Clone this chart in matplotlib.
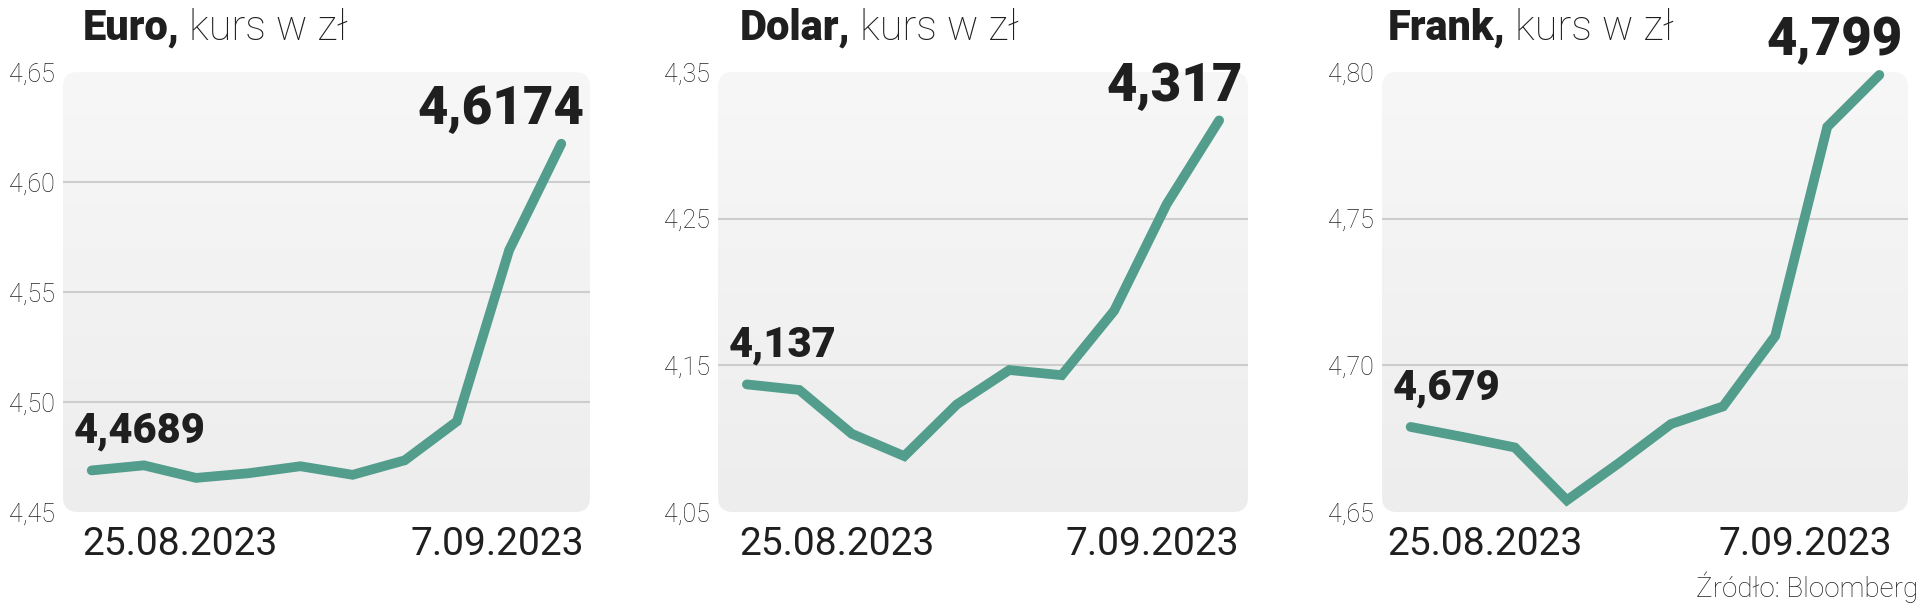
import numpy as np
import matplotlib.pyplot as plt
from matplotlib.patches import FancyBboxPatch
from matplotlib.colors import LinearSegmentedColormap

# Notowania dzienne 25.08.2023 - 7.09.2023
dates = ['25.08.2023', '28.08.2023', '29.08.2023', '30.08.2023', '31.08.2023',
         '1.09.2023', '4.09.2023', '5.09.2023', '6.09.2023', '7.09.2023']

euro = [4.4689, 4.4712, 4.4655, 4.4676, 4.4708, 4.4669, 4.4735, 4.4912, 4.5690, 4.6174]
dolar = [4.137, 4.1332, 4.1033, 4.0881, 4.1233, 4.1468, 4.1433, 4.1873, 4.2599, 4.317]
frank = [4.679, 4.6756, 4.6720, 4.6540, 4.6667, 4.6800, 4.6860, 4.7100, 4.7813, 4.799]

names = ['Euro,', 'Dolar,', 'Frank,']
series = [euro, dolar, frank]
decimals = [4, 3, 3]

euro_ticks = [4.45, 4.50, 4.55, 4.60, 4.65]
dolar_ticks = [4.05, 4.15, 4.25, 4.35]
frank_ticks = [4.65, 4.70, 4.75, 4.80]
tick_sets = [euro_ticks, dolar_ticks, frank_ticks]

source = 'Źródło: Bloomberg'

# layout (pixels in a 1920x608 figure)
W, H = 1920, 608
box_x = [(63, 590), (718, 1248), (1382, 1908)]
box_top, box_bottom = 72, 512
left_x = [0.037, 0.041, 0.010]
right_x = [0.989, 0.983, 0.970]

line_color = '#529d8c'
text_color = '#1f1f1f'
bg_cmap = LinearSegmentedColormap.from_list('bg', ['#ededee', '#f7f7f7'])

fig = plt.figure(figsize=(W / 100, H / 100), dpi=100)

for i, vals in enumerate(series):
    l, r = box_x[i]
    bw, bh = r - l, box_bottom - box_top
    ax = fig.add_axes([l / W, 1 - box_bottom / H, bw / W, bh / H])
    ticks = tick_sets[i]
    lo, hi = ticks[0], ticks[-1]
    x = np.arange(len(vals))

    # rounded gray background with soft gradient
    box = FancyBboxPatch((0, 0), 1, 1, boxstyle='round,pad=0,rounding_size=%f' % (15 / bw),
                         mutation_aspect=bw / bh, transform=ax.transAxes,
                         facecolor='none', edgecolor='none')
    ax.add_patch(box)
    grad = np.linspace(0, 1, 256).reshape(-1, 1)
    im = ax.imshow(grad, extent=[-0.55, 9.55, lo, hi], aspect='auto', cmap=bg_cmap,
                   origin='lower', zorder=0)
    im.set_clip_path(box)

    for t in ticks[1:-1]:
        ax.axhline(t, color='#cdcdcd', lw=1.5, zorder=1)

    ax.plot(x, vals, color=line_color, lw=7, solid_capstyle='round',
            solid_joinstyle='miter', zorder=3, clip_on=False)

    ax.set_xlim(-0.55, 9.55)
    ax.set_ylim(lo, hi)
    ax.set_xticks([])
    ax.set_yticks(ticks, [f'{t:.2f}'.replace('.', ',') for t in ticks],
                  fontfamily='Roboto', fontweight='light', fontsize=18, color='#222222')
    ax.tick_params(axis='y', length=0, pad=6)
    for s in ax.spines.values():
        s.set_visible(False)
    ax.patch.set_visible(False)

    # first / last value labels
    fmt = '{:.%df}' % decimals[i]
    ax.annotate(fmt.format(vals[0]).replace('.', ','), xy=(x[0], vals[0]),
                xytext=(-13, 20), textcoords='offset points', ha='left', va='baseline',
                fontsize=30, fontweight='heavy', family='Roboto', color=text_color,
                annotation_clip=False)
    ax.annotate(fmt.format(vals[-1]).replace('.', ','), xy=(x[-1], vals[-1]),
                xytext=(17, 14), textcoords='offset points', ha='right', va='baseline',
                fontsize=38, fontweight='heavy', family='Roboto', color=text_color,
                annotation_clip=False)

    # title: bold name + light unit
    ty = 1 + (box_top - 40) / bh
    t = ax.text(left_x[i], ty, names[i], transform=ax.transAxes, ha='left', va='baseline',
                fontsize=30, fontweight='heavy', family='Roboto', color=text_color)
    ax.annotate(' kurs w zł', xy=(1, ty), xycoords=(t, 'axes fraction'), ha='left',
                va='baseline', fontsize=30, fontweight='light', family='Roboto',
                color=text_color)

    # date labels
    dy = -(555 - box_bottom) / bh
    ax.text(left_x[i], dy, dates[0], transform=ax.transAxes, ha='left', va='baseline',
            fontsize=28, family='Roboto', color=text_color)
    ax.text(right_x[i], dy, dates[-1], transform=ax.transAxes, ha='right', va='baseline',
            fontsize=28, family='Roboto', color=text_color)

fig.text(1918 / W, 1 - 597 / H, source, ha='right', va='baseline', fontsize=20,
         family='Roboto', fontweight='light', color='#222222')

fig.savefig('out.png', dpi=100)
